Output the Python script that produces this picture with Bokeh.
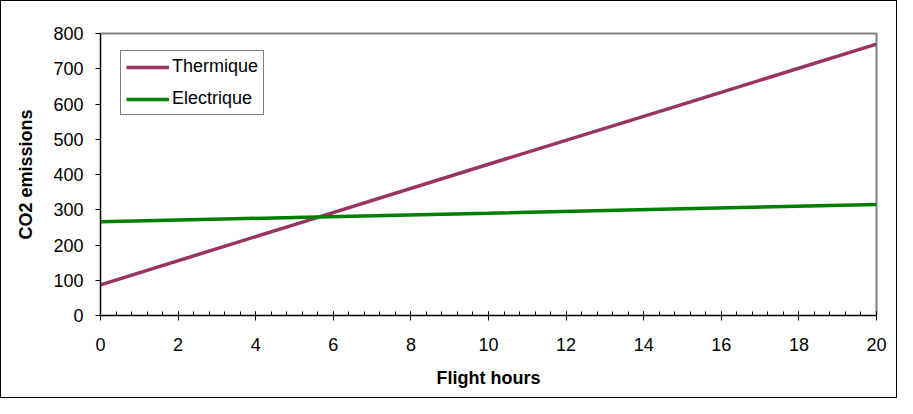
from bokeh.plotting import figure
from bokeh.models import Range1d, FixedTicker, Legend, LegendItem
from bokeh.embed import file_html
from bokeh.resources import INLINE

hours = [0, 5, 10, 15, 20]
thermique = [87, 258, 429, 599, 770]
electrique = [266, 278, 290, 303, 315]
x_ticks = [0, 2, 4, 6, 8, 10, 12, 14, 16, 18, 20]
y_ticks = [0, 100, 200, 300, 400, 500, 600, 700, 800]

FONT = "Liberation Sans"

p = figure(width=897, height=398, output_backend="svg", toolbar_location=None,
           x_range=Range1d(0, 20), y_range=Range1d(0, 800),
           min_border_left=99, min_border_right=22, min_border_top=32, min_border_bottom=84)
p.styles = {"border": "1px solid black", "box-sizing": "border-box"}
p.background_fill_color = "white"
p.border_fill_color = "white"
p.outline_line_color = "#808080"
p.outline_line_width = 2
p.xgrid.visible = False
p.ygrid.visible = False

r1 = p.line(hours, thermique, line_color="#993366", line_width=3.5)
r2 = p.line(hours, electrique, line_color="#008000", line_width=3.5)

minor = [i * 0.4 for i in range(51)]
p.xaxis.ticker = FixedTicker(ticks=x_ticks, minor_ticks=minor)
p.yaxis.ticker = FixedTicker(ticks=y_ticks)

for ax in (p.xaxis[0], p.yaxis[0]):
    ax.axis_line_color = "black"
    ax.axis_line_width = 1
    ax.major_tick_line_color = "black"
    ax.minor_tick_line_color = "black"
    ax.major_label_text_font = FONT
    ax.major_label_text_font_size = "18px"
    ax.major_label_text_color = "black"
    ax.axis_label_text_font = FONT
    ax.axis_label_text_font_size = "18px"
    ax.axis_label_text_font_style = "bold"
    ax.axis_label_text_color = "black"

p.xaxis.axis_label = "Flight hours"
p.xaxis.major_tick_in = 4
p.xaxis.major_tick_out = 5
p.xaxis.minor_tick_in = 4
p.xaxis.minor_tick_out = 0
p.xaxis.major_label_standoff = 17
p.xaxis.axis_label_standoff = 14

p.yaxis.axis_label = "CO2 emissions"
p.yaxis.major_tick_in = 0
p.yaxis.major_tick_out = 5
p.yaxis.minor_tick_line_color = None
p.yaxis.major_label_standoff = 12
p.yaxis.axis_label_standoff = 14

legend = Legend(items=[LegendItem(label="Thermique", renderers=[r1]),
                       LegendItem(label="Electrique", renderers=[r2])],
                location=(20, 200))
legend.border_line_color = "black"
legend.border_line_width = 1
legend.background_fill_color = "white"
legend.background_fill_alpha = 1
legend.label_text_font = FONT
legend.label_text_font_size = "18px"
legend.label_text_color = "black"
legend.glyph_width = 43
legend.glyph_height = 20
legend.label_height = 20
legend.label_standoff = 3
legend.spacing = 11
legend.padding = 5
legend.margin = 0
p.add_layout(legend)

open("out.html", "w").write(file_html(p, INLINE))
